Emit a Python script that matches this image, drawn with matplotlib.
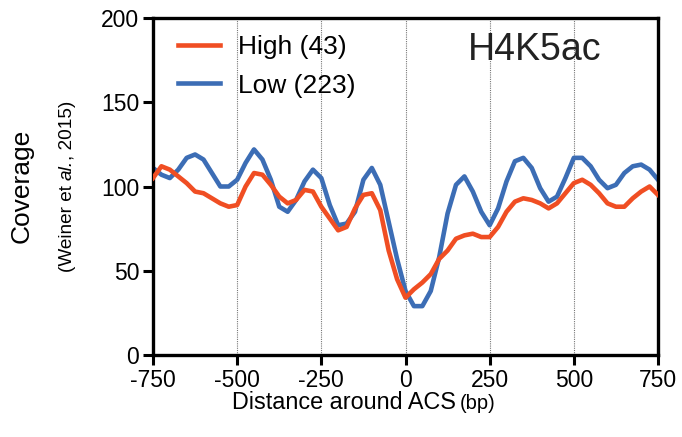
import numpy as np
import matplotlib
matplotlib.use("Agg")
import matplotlib.pyplot as plt

plt.rcParams['font.family'] = ['Liberation Sans', 'DejaVu Sans']
plt.rcParams['axes.unicode_minus'] = False

# distance around ACS (bp), one point every 25 bp
distance = np.arange(-750, 751, 25)

low = [111, 107, 105, 110, 117, 119, 116, 108, 100, 100,
       104, 114, 122, 116, 104, 88, 85, 92, 103, 110,
       105, 89, 77, 78, 85, 104, 111, 101, 79, 57,
       38, 29, 29, 38, 58, 84, 101, 106, 97, 85,
       77, 87, 103, 115, 117, 111, 99, 91, 94, 105,
       117, 117, 112, 104, 99, 101, 108, 112, 113, 110,
       104]

high = [105, 112, 110, 106, 102, 97, 96, 93, 90, 88,
        89, 100, 108, 107, 101, 94, 90, 92, 98, 97,
        88, 81, 74, 76, 87, 95, 96, 86, 62, 45,
        34, 39, 43, 48, 57, 62, 69, 71, 72, 70,
        70, 76, 85, 91, 93, 92, 90, 87, 90, 96,
        102, 104, 101, 96, 90, 88, 88, 93, 97, 100,
        95]

xticks = [-750, -500, -250, 0, 250, 500, 750]
yticks = [0, 50, 100, 150, 200]

RED = '#F04E23'
BLUE = '#3C6DB5'
W, H = 682, 437

fig = plt.figure(figsize=(6.82, 4.37), dpi=100)
ax = fig.add_axes([153 / W, 82 / H, 505 / W, 337 / H])

for x in xticks[1:-1]:
    ax.axvline(x, color='#777777', lw=0.8, ls=(0, (1, 1)), zorder=0)

ax.plot(distance, high, color=RED, lw=3.3, label='High (43)', zorder=3)
ax.plot(distance, low, color=BLUE, lw=3.3, label='Low (223)', zorder=2)

ax.set_xlim(-750, 750)
ax.set_ylim(0, 200)
ax.set_xticks(xticks)
ax.set_yticks(yticks)
ax.tick_params(axis='both', direction='out', length=7.5, width=2.2,
               labelsize=16.5, pad=2.5)
for side in ['left', 'bottom', 'top', 'right']:
    ax.spines[side].set_linewidth(2.4)
    ax.spines[side].set_color('black')

# legend: red on top, blue below
handles, labels = ax.get_legend_handles_labels()
ax.legend(handles, labels, loc='upper left', bbox_to_anchor=(0.016, 1.0),
          frameon=False, fontsize=19, handlelength=1.6, handletextpad=0.68,
          labelspacing=0.55, borderaxespad=0.3, borderpad=0.35)

ax.text(0.755, 0.905, 'H4K5ac', transform=ax.transAxes, fontsize=27,
        ha='center', va='center', color='#222222')

# y label: "Coverage" and the citation below it, with "al." in italics
fig.text(22 / W, 1 - 186 / H, 'Coverage', rotation=90, fontsize=19,
         ha='center', va='center')

fig.canvas.draw()
pieces = [('(Weiner et ', 'normal'), ('al.', 'italic'), (', 2015)', 'normal')]
parts = []
y0 = 0
for txt, style in pieces:
    t = fig.text(67 / W, y0, txt, rotation=90, fontsize=13.7, style=style,
                 ha='center', va='bottom')
    bb = t.get_window_extent()
    parts.append((t, bb.height))
    y0 += bb.height / H
total = sum(h for _, h in parts)
ystart = (H - 186) - total / 2
for t, h in parts:
    t.set_y(ystart / H)
    ystart += h

# x label with smaller unit
t1 = fig.text(232 / W, 1 - 409 / H, 'Distance around ACS', fontsize=16.8,
              ha='left', va='baseline')
fig.canvas.draw()
bb = t1.get_window_extent()
fig.text((bb.x1 + 4) / W, 1 - 409 / H, '(bp)', fontsize=14.5,
         ha='left', va='baseline')

fig.savefig('out.png', dpi=100)
